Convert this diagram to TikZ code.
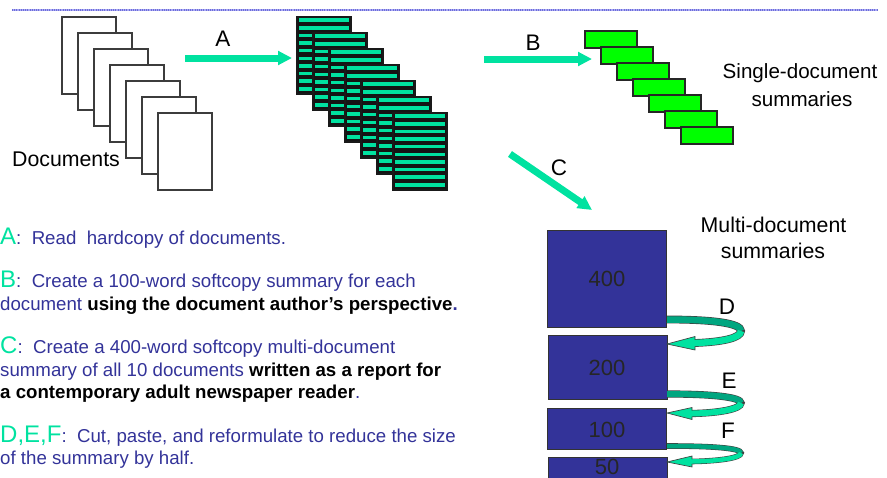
\documentclass[tikz,border=0pt]{standalone}
\usepackage{fontspec}
\setmainfont{Liberation Sans}
\usetikzlibrary{arrows.meta}

\definecolor{turq}{RGB}{0,226,160}
\definecolor{deepturq}{RGB}{0,166,128}
\definecolor{sumgreen}{RGB}{0,255,0}
\definecolor{boxblue}{RGB}{51,51,153}
\definecolor{txtblue}{RGB}{51,51,153}
\definecolor{rulecol}{RGB}{170,170,245}
\definecolor{ruledot}{RGB}{110,110,215}
\definecolor{edgegray}{RGB}{60,60,60}

\newcommand{\tagletter}[1]{{\color{turq}\fontsize{24}{24}\selectfont #1}}

\tikzset{
  docpage/.style={draw=edgegray, line width=1.3pt, fill=white, minimum width=54pt,
    minimum height=77pt, inner sep=0pt, outer sep=0pt},
  stripepage/.style={draw=black!90, line width=1.2pt, fill=black!92, minimum width=54pt,
    minimum height=77pt, inner sep=0pt, outer sep=0pt,
    path picture={\foreach \k in {0,...,9}
      \fill[turq] ([xshift=1.6pt,yshift={-1.4pt-7.62pt*\k}]path picture bounding box.north west)
        rectangle ++(50.8pt,-3.6pt);}},
  sumbox/.style={draw=black!85, line width=1.2pt, fill=sumgreen, minimum width=52pt,
    minimum height=17pt, inner sep=0pt, outer sep=0pt},
  multibox/.style={draw=black!80, line width=0.9pt, fill=boxblue, minimum width=119pt,
    inner sep=0pt, outer sep=0pt, text=black!85, font=\fontsize{22}{22}\selectfont},
  flowarrow/.style={draw=turq, line width=7pt, line cap=butt,
    -{Triangle[length=14pt 0 0, width=13.5pt 0 0]}},
  title/.style={anchor=base, inner sep=0pt, font=\fontsize{21.3}{21.3}\selectfont},
  steplabel/.style={anchor=base, inner sep=0pt, font=\fontsize{22.5}{22.5}\selectfont},
  txt/.style={anchor=base west, inner sep=0pt, text=txtblue, font=\fontsize{18.67}{22}\selectfont},
  ribbonedge/.style={draw=black!75, line cap=butt},
  upperribbon/.style={draw=deepturq, line cap=butt},
  lowerribbon/.style={draw=turq, line cap=butt},
}

\begin{document}
\begin{tikzpicture}[x=1pt,y=-1pt]
\useasboundingbox (0,0) rectangle (887,477);
\clip (0,0) rectangle (887,477);

% textured rule along the top
\coordinate (ruleL) at (12,10); \coordinate (ruleR) at (877,10);
\draw[rulecol, line width=2.4pt] (ruleL) -- (ruleR);
\draw[ruledot, line width=1.2pt, dash pattern=on 1pt off 1.2pt] (ruleL) -- (ruleR);

% stack of hardcopy documents
\foreach \i in {0,...,6}
  \node[docpage] (doc\i) at ({89+16*\i},{55.5+16*\i}) {};
\node[title] (doclabel) at (66,166.7) {Documents};

% stack of softcopy documents
\foreach \i in {0,...,6}
  \node[stripepage] (soft\i) at ({324+16*\i},{55.5+16*\i}) {};

% single-document summaries
\foreach \i in {0,...,6}
  \node[sumbox] (sum\i) at ({611+16*\i},{39.5+16*\i}) {};
\node[title, font=\fontsize{20.6}{20.6}\selectfont] (singleA) at (800,78.7) {Single-document};
\node[title, font=\fontsize{20.6}{20.6}\selectfont] (singleB) at (802,106) {summaries};

% process arrows
\coordinate (aS) at (185,58);  \coordinate (aE) at (292,58);
\coordinate (bS) at (484,59);  \coordinate (bE) at (592,59);
\coordinate (cS) at (510,154); \coordinate (cE) at (592,210);
\draw[flowarrow] (aS) -- (aE);
\draw[flowarrow] (bS) -- (bE);
\draw[flowarrow] (cS) -- (cE);
\node[steplabel] (labA) at (223,46.7) {A};
\node[steplabel] (labB) at (533,50) {B};
\node[steplabel] (labC) at (559,175) {C};

% multi-document summaries
\node[multibox, minimum height=97pt] (m400) at (606.5,278.5) {};
\node[multibox, minimum height=64pt] (m200) at (607.5,367) {};
\node[multibox, minimum height=41pt] (m100) at (606.5,428.5) {};
\node[multibox, minimum height=30pt] (m50)  at (607.5,472) {};
\node[anchor=base, inner sep=0pt, text=black!85, font=\fontsize{22}{22}\selectfont] (t400) at (607,286) {400};
\node[anchor=base, inner sep=0pt, text=black!85, font=\fontsize{22}{22}\selectfont] (t200) at (607,375) {200};
\node[anchor=base, inner sep=0pt, text=black!85, font=\fontsize{22}{22}\selectfont] (t100) at (607,437) {100};
\node[anchor=base, inner sep=0pt, text=black!85, font=\fontsize{22}{22}\selectfont] (t50)  at (607,474) {50};
\node[title] (multiA) at (773.5,232) {Multi-document};
\node[title] (multiB) at (773,258) {summaries};

% curled reduction arrows D, E, F
\coordinate (dS) at (667,319.5); \coordinate (dR) at (741,331);
\coordinate (dB) at (695,343);   \coordinate (dT) at (667,344);
\coordinate (dH1) at (695,336.5); \coordinate (dH2) at (695,350);
\coordinate (eS) at (667,394);   \coordinate (eR) at (741,403);
\coordinate (eB) at (692,413.5); \coordinate (eT) at (667,413);
\coordinate (eH1) at (692,407.5); \coordinate (eH2) at (692,419.5);
\coordinate (fS) at (667,446);   \coordinate (fR) at (741,453);
\coordinate (fB) at (692,461.5); \coordinate (fT) at (667,462);
\coordinate (fH1) at (692,456);  \coordinate (fH2) at (692,467);

\draw[ribbonedge, line width=7.8pt] (dS) .. controls +(45,0) and +(0,-8) .. (dR) .. controls +(0,7) and +(27,-1) .. (dB);
\draw[upperribbon, line width=6.5pt] (dS) .. controls +(45,0) and +(0,-8) .. (dR);
\draw[lowerribbon, line width=6.5pt] (dR) .. controls +(0,7) and +(27,-1) .. (dB);
\fill[turq] (dH1) -- (dT) -- (dH2) -- cycle;
\draw[black!75, line width=0.65pt, line join=miter] ([yshift=3.25pt]dB) -- (dH1) -- (dT) -- (dH2) -- ([yshift=-3.25pt]dB);

\draw[ribbonedge, line width=7.2pt] (eS) .. controls +(45,0) and +(0,-6) .. (eR) .. controls +(0,6) and +(27,-0.5) .. (eB);
\draw[upperribbon, line width=6pt] (eS) .. controls +(45,0) and +(0,-6) .. (eR);
\draw[lowerribbon, line width=6pt] (eR) .. controls +(0,6) and +(27,-0.5) .. (eB);
\fill[turq] (eH1) -- (eT) -- (eH2) -- cycle;
\draw[black!75, line width=0.65pt, line join=miter] ([yshift=3pt]eB) -- (eH1) -- (eT) -- (eH2) -- ([yshift=-3pt]eB);

\draw[ribbonedge, line width=5.6pt] (fS) .. controls +(45,0) and +(0,-5) .. (fR) .. controls +(0,5) and +(27,-0.5) .. (fB);
\draw[upperribbon, line width=4.5pt] (fS) .. controls +(45,0) and +(0,-5) .. (fR);
\draw[lowerribbon, line width=4.5pt] (fR) .. controls +(0,5) and +(27,-0.5) .. (fB);
\fill[turq] (fH1) -- (fT) -- (fH2) -- cycle;
\draw[black!75, line width=0.65pt, line join=miter] ([yshift=2.25pt]fB) -- (fH1) -- (fT) -- (fH2) -- ([yshift=-2.25pt]fB);

\node[steplabel] (labD) at (727,314) {D};
\node[steplabel] (labE) at (729,388) {E};
\node[steplabel] (labF) at (728,438) {F};

% legend of the steps
\node[txt] (line1) at (0,244) {\tagletter{A}:\ \ Read\ \ hardcopy of documents.};
\node[txt] (line2) at (0,287) {\tagletter{B}:\ \ Create a 100-word softcopy summary for each};
\node[txt] (line3) at (0,310) {document {\bfseries\color{black}using the document author’s perspective}\textbf{.}};
\node[txt] (line4) at (0,353) {\tagletter{C}:\ \ Create a 400-word softcopy multi-document};
\node[txt] (line5) at (0,376) {summary of all 10 documents {\bfseries\color{black}written as a report for}};
\node[txt] (line6) at (0,398) {{\bfseries\color{black}a contemporary adult newspaper reader}.};
\node[txt] (line7) at (0,442) {\tagletter{D,E,F}:\ \ Cut, paste, and reformulate to reduce the size};
\node[txt] (line8) at (0,464) {of the summary by half.};
\end{tikzpicture}
\end{document}
